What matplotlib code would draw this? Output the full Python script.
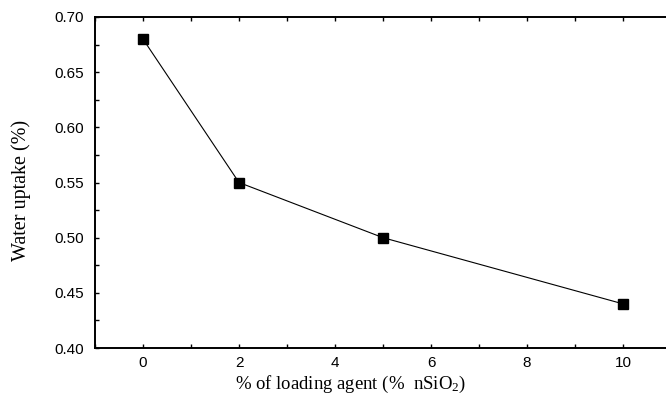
import matplotlib
matplotlib.use("Agg")
import matplotlib.pyplot as plt
from matplotlib.ticker import MultipleLocator
import numpy as np

plt.rcParams['mathtext.fontset'] = 'custom'
plt.rcParams['mathtext.rm'] = 'Liberation Serif'
plt.rcParams['mathtext.it'] = 'Liberation Serif'

# nano-silica loading vs water uptake
loading = [0, 2, 5, 10]
uptake = [0.68, 0.55, 0.50, 0.44]

W, H = 666, 396
fig = plt.figure(figsize=(W/100, H/100), dpi=100)
# right spine falls just outside the saved image
ax = fig.add_axes([95/W, (H-348)/H, (671-95)/W, (348-17)/H])

ax.plot(loading, uptake, color='black', lw=0.8, marker='s', ms=7,
        mfc='black', mec='black')

ax.set_xlim(-1, 11)
ax.set_ylim(0.40, 0.70)
ax.xaxis.set_major_locator(MultipleLocator(2))
ax.xaxis.set_minor_locator(MultipleLocator(1))
ax.yaxis.set_major_locator(MultipleLocator(0.05))
ax.yaxis.set_minor_locator(MultipleLocator(0.025))
ax.yaxis.set_major_formatter(plt.FormatStrFormatter('%.2f'))

ax.tick_params(which='both', direction='in', top=True, right=True,
               length=3, width=1, labelsize=11)
ax.tick_params(axis='x', pad=6)
ax.tick_params(axis='y', pad=8)
for lab in ax.get_xticklabels() + ax.get_yticklabels():
    lab.set_family('Liberation Sans')
for s in ax.spines.values():
    s.set_linewidth(1.4)

ax.set_xlabel('% of loading agent (%  nSiO$_\\mathrm{2}$)',
              family='Liberation Serif', fontsize=13.5)
ax.set_ylabel('Water uptake (%)', family='Liberation Serif', fontsize=14.5)
ax.xaxis.set_label_coords((351-95)/(671-95), -(384-348)/(348-17))
ax.xaxis.label.set_va('center')
ax.yaxis.set_label_coords(-(95-21)/(671-95), (348-190)/(348-17))
ax.yaxis.label.set_va('center')

fig.savefig('out.png', dpi=100)
